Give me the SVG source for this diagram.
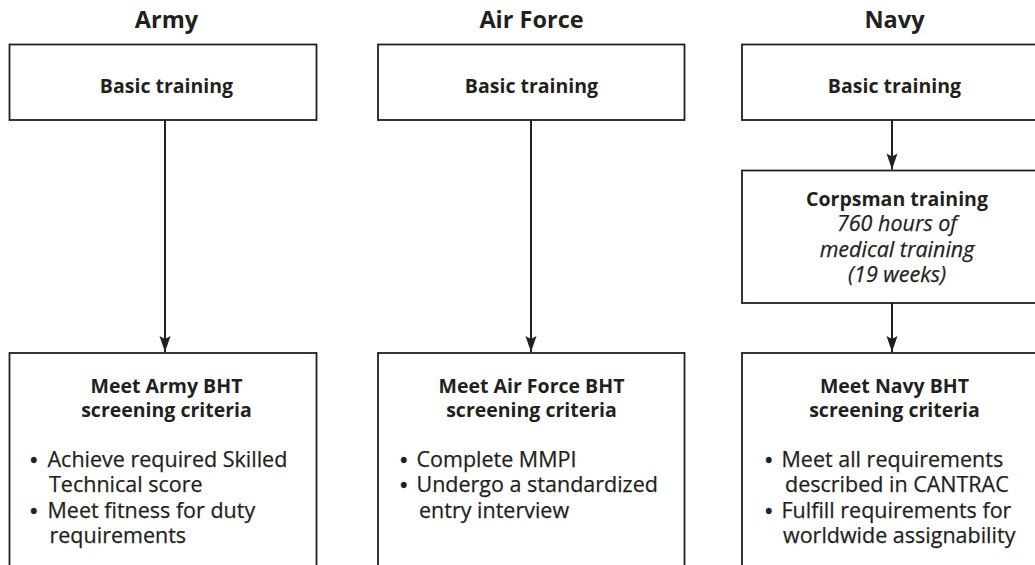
<svg xmlns="http://www.w3.org/2000/svg" width="1035" height="565" viewBox="0 0 1035 565">
<style>
.box{fill:#fff;stroke:#231f20;stroke-width:1.8}
.hd{font-family:"Open Sans","Liberation Sans",sans-serif;font-weight:bold;font-size:23.5px;fill:#231f20;text-anchor:middle}
.tt{font-family:"Open Sans","Liberation Sans",sans-serif;font-weight:bold;font-size:19.5px;fill:#231f20;text-anchor:middle}
.it{font-family:"Open Sans","Liberation Sans",sans-serif;font-style:italic;font-size:21.5px;fill:#231f20;text-anchor:middle;stroke:#231f20;stroke-width:0.25}
.bt{font-family:"Open Sans","Liberation Sans",sans-serif;font-size:21.5px;fill:#231f20;stroke:#231f20;stroke-width:0.25}
.bu{font-weight:bold;font-size:20px}
.cn{stroke:#231f20;stroke-width:2;fill:none}
</style>
<defs>
<marker id="ah" markerUnits="userSpaceOnUse" markerWidth="18" markerHeight="12" refX="16" refY="6" orient="auto" viewBox="0 0 18 12">
<path d="M0,0.5 L16,6 L0,11.5 L3,6 Z" fill="#231f20"/>
</marker>
</defs>
<text class="hd" x="166.5" y="28">Army</text>
<text class="hd" x="531.5" y="28">Air Force</text>
<text class="hd" x="894.5" y="28">Navy</text>

<g id="army-basic">
<rect class="box" x="9.5" y="44.5" width="307" height="75.5"/>
<text class="tt" x="166.5" y="92.5">Basic training</text>
</g>
<g id="af-basic">
<rect class="box" x="378" y="44.5" width="306.5" height="75.5"/>
<text class="tt" x="531.5" y="92.5">Basic training</text>
</g>
<g id="navy-basic">
<rect class="box" x="742" y="44.5" width="307" height="75.5"/>
<text class="tt" x="894.5" y="92.5">Basic training</text>
</g>
<g id="navy-corpsman">
<rect class="box" x="742" y="170.5" width="307" height="132.5"/>
<text class="tt" x="897" y="206">Corpsman training</text>
<text class="it" x="897" y="231">760 hours of</text>
<text class="it" x="897" y="256.5">medical training</text>
<text class="it" x="897" y="282">(19 weeks)</text>
</g>
<g id="army-bht">
<rect class="box" x="9.5" y="353" width="307" height="230"/>
<text class="tt" x="166.5" y="393">Meet Army BHT</text>
<text class="tt" x="166.5" y="417">screening criteria</text>
<text class="bt"><tspan class="bu" x="30" y="466.5">•</tspan><tspan x="47.5" y="466.5">Achieve required Skilled</tspan><tspan x="49" y="492">Technical score</tspan><tspan class="bu" x="30" y="517.5">•</tspan><tspan x="47.5" y="517.5">Meet fitness for duty</tspan><tspan x="49.5" y="543">requirements</tspan></text>
</g>
<g id="af-bht">
<rect class="box" x="378" y="353" width="306.5" height="230"/>
<text class="tt" x="531.5" y="393">Meet Air Force BHT</text>
<text class="tt" x="531.5" y="417">screening criteria</text>
<text class="bt"><tspan class="bu" x="400" y="466.5">•</tspan><tspan x="416.5" y="466.5">Complete MMPI</tspan><tspan class="bu" x="400" y="492">•</tspan><tspan x="416.5" y="492">Undergo a standardized</tspan><tspan x="419" y="517.5">entry interview</tspan></text>
</g>
<g id="navy-bht">
<rect class="box" x="742" y="353" width="307" height="230"/>
<text class="tt" x="894.5" y="393">Meet Navy BHT</text>
<text class="tt" x="894.5" y="417">screening criteria</text>
<text class="bt"><tspan class="bu" x="765" y="466.5">•</tspan><tspan x="781.5" y="466.5">Meet all requirements</tspan><tspan x="785" y="492">described in CANTRAC</tspan><tspan class="bu" x="765" y="517.5">•</tspan><tspan x="781.5" y="517.5">Fulfill requirements for</tspan><tspan x="783" y="543">worldwide assignability</tspan></text>
</g>
<g id="connectors">
<line class="cn" x1="165" y1="120" x2="165" y2="352" marker-end="url(#ah)"/>
<line class="cn" x1="531" y1="120" x2="531" y2="352" marker-end="url(#ah)"/>
<line class="cn" x1="892" y1="120" x2="892" y2="169.5" marker-end="url(#ah)"/>
<line class="cn" x1="892" y1="303" x2="892" y2="352" marker-end="url(#ah)"/>
</g>
</svg>
